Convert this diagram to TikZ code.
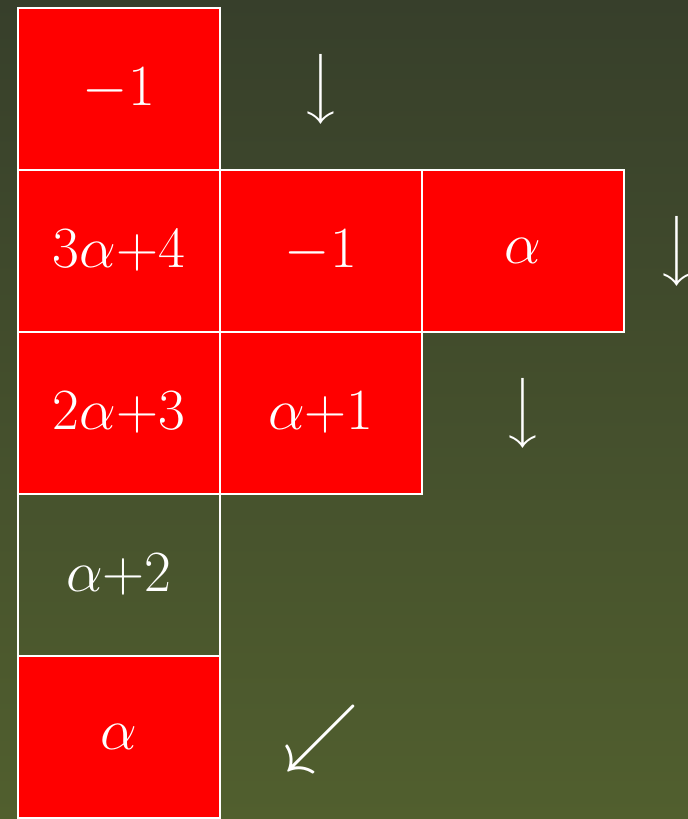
\documentclass[tikz,border=0pt]{standalone}
\usepackage{amsmath}
\usepackage{graphicx}
\usepackage{tikz}
\usepackage{xcolor}
\usetikzlibrary{calc}
\definecolor{bgTopColor}{RGB}{55,63,43}
\definecolor{bgBottomColor}{RGB}{81,95,46}
\definecolor{cellColor}{RGB}{255,0,0}

\begin{document}
\begin{tikzpicture}[
        x=0.0125cm, y=-0.0125cm,
        cell/.style={
                draw=white,
                line width=0.8pt,
                fill=cellColor,
                text=white,
                font=\huge,
                inner sep=0pt,
                minimum width=2.525cm,
                minimum height=2.025cm
            },
        emptycell/.style={cell, fill=none},
        arrowsym/.style={
                text=white,
                inner sep=0pt,
                font=\huge
            }
    ]

    % ---- Background ----
    \shade[top color=bgTopColor, bottom color=bgBottomColor] (0,0) rectangle (688,819);
    \useasboundingbox (0,0) rectangle (688,819);

    % ---- Grid (centres in px) ----
    \def\cA{119} \def\cB{321} \def\cC{523}
    \def\rA{89}  \def\rB{251} \def\rC{413} \def\rD{575} \def\rE{737}

    % ---- Row 1 ----
    \node[cell] (a1) at (\cA,\rA) {$-1$};
    \node[arrowsym] (down1) at (\cB,\rA) {$\big\downarrow$};

    % ---- Row 2 ----
    \node[cell] (a2) at (\cA,\rB) {$3\alpha{+}4$};
    \node[cell] (b2) at (\cB,\rB) {$-1$};
    \node[cell] (c2) at (\cC,\rB) {$\alpha$};
    \node[arrowsym] (down2) at (677,\rB) {$\big\downarrow$};

    % ---- Row 3 ----
    \node[cell] (a3) at (\cA,\rC) {$2\alpha{+}3$};
    \node[cell] (b3) at (\cB,\rC) {$\alpha{+}1$};
    \node[arrowsym] (down3) at (\cC,\rC) {$\big\downarrow$};

    % ---- Row 4 ----
    \node[emptycell] (a4) at (\cA,\rD) {$\alpha{+}2$};

    % ---- Row 5 ----
    \node[arrowsym, font=\Huge] (sw5) at (\cB,739) {\scalebox{1.08}{$\swarrow$}};
    \node[cell] (a5) at (\cA,\rE) {$\alpha$};
\end{tikzpicture}
\end{document}
